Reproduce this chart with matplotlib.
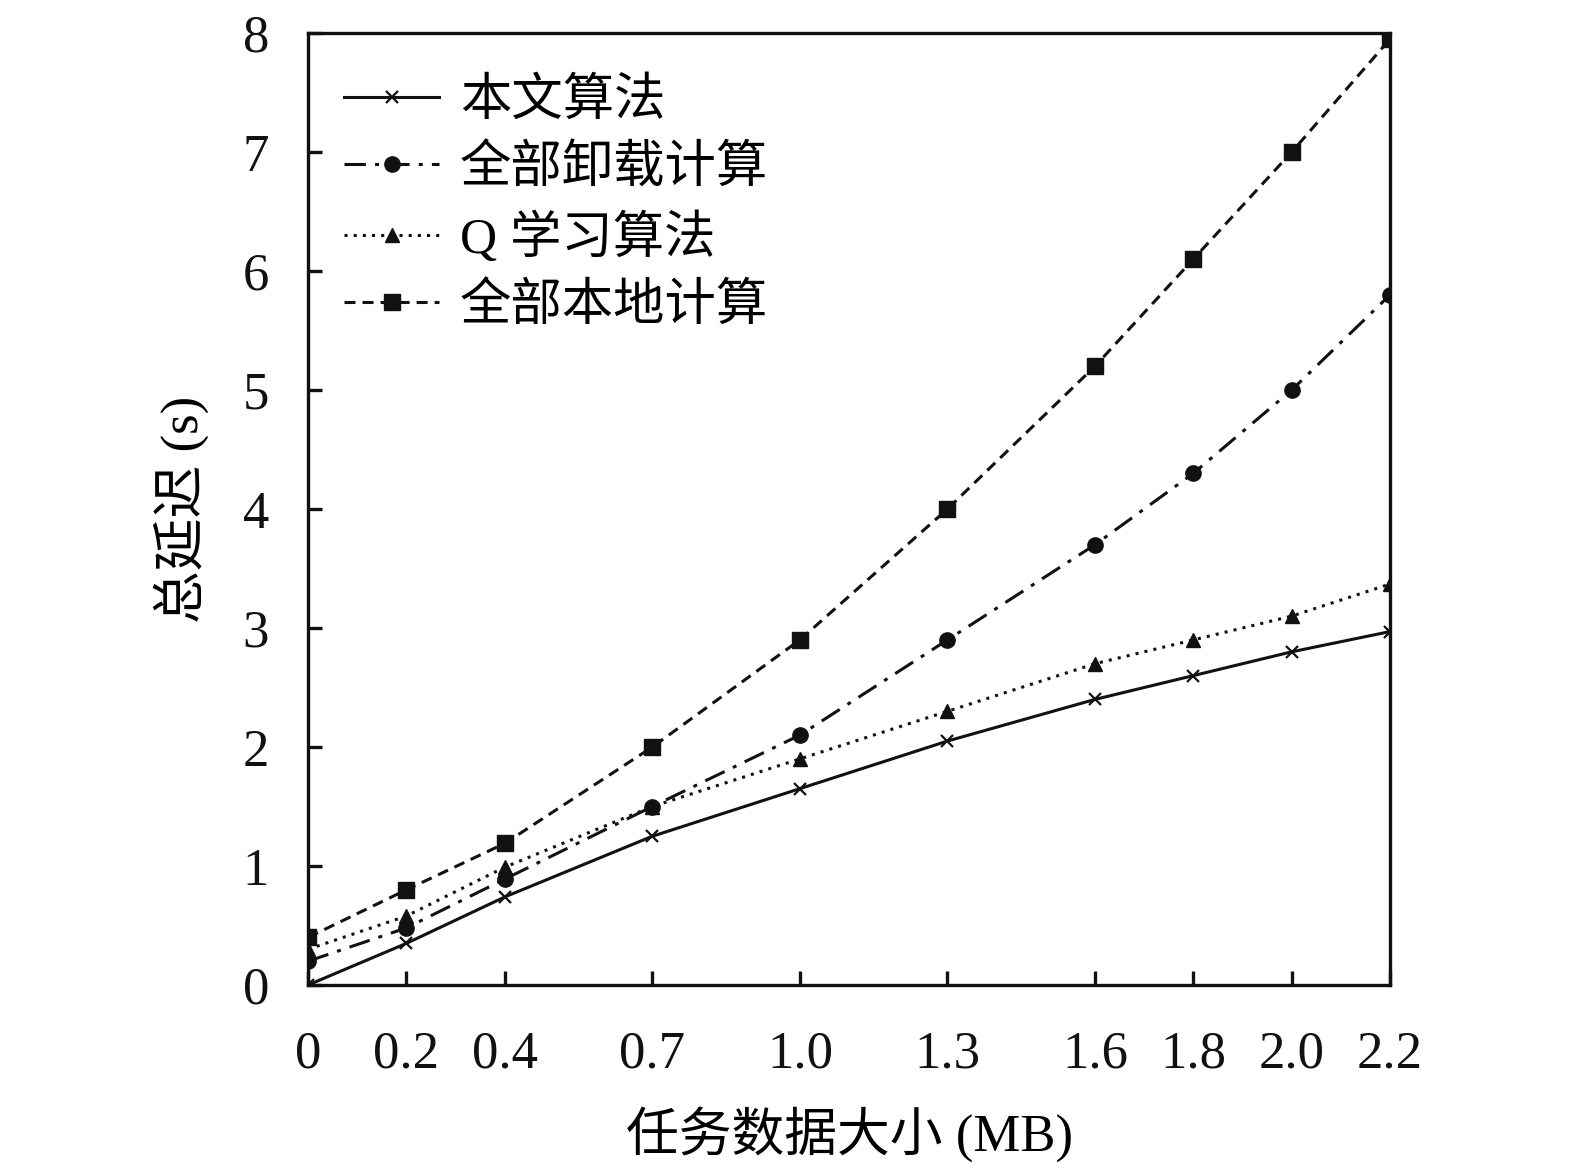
import matplotlib
matplotlib.use("Agg")
import matplotlib.pyplot as plt

plt.rcParams['font.family'] = ['Liberation Serif', 'Noto Sans CJK SC']

# 任务数据大小 (MB)
x = [0, 0.2, 0.4, 0.7, 1.0, 1.3, 1.6, 1.8, 2.0, 2.2]
x_labels = ['0', '0.2', '0.4', '0.7', '1.0', '1.3', '1.6', '1.8', '2.0', '2.2']

# 总延迟 (s)
ours = [0, 0.35, 0.74, 1.25, 1.65, 2.05, 2.4, 2.6, 2.8, 2.97]
offload_all = [0.2, 0.48, 0.89, 1.5, 2.1, 2.9, 3.7, 4.3, 5.0, 5.8]
q_learning = [0.3, 0.58, 0.99, 1.5, 1.9, 2.3, 2.7, 2.9, 3.1, 3.37]
local_all = [0.4, 0.8, 1.19, 2.0, 2.9, 4.0, 5.2, 6.1, 7.0, 7.95]

names = ['本文算法', '全部卸载计算', 'Q 学习算法', '全部本地计算']

fig = plt.figure(figsize=(15.75, 11.75), dpi=100)
ax = fig.add_axes([0.1956, 0.1617, 0.6870, 0.8102])

lw = 2.2
ax.plot(x, ours, color='#111111', linestyle='-', lw=lw, marker='x', ms=9, mew=1.6, label=names[0])
ax.plot(x, offload_all, color='#111111', linestyle=(0, (7, 3, 1.3, 3)), lw=lw, marker='o', ms=11, label=names[1])
ax.plot(x, q_learning, color='#111111', linestyle=(0, (1, 2.0)), lw=lw, marker='^', ms=10, label=names[2])
ax.plot(x, local_all, color='#111111', linestyle=(0, (3.6, 2.3)), lw=lw, marker='s', ms=11, label=names[3])

ax.set_xlim(0, 2.2)
ax.set_ylim(0, 8)
ax.set_xticks(x)
ax.set_xticklabels(x_labels)
ax.set_yticks(range(0, 9))

for s in ax.spines.values():
    s.set_linewidth(2.4)
    s.set_color('#111111')
ax.tick_params(direction='in', length=10, width=2.4, labelsize=38, colors='#111111')
ax.tick_params(axis='x', pad=33)
ax.tick_params(axis='y', pad=28)

ax.set_xlabel('任务数据大小 (MB)', fontsize=38, labelpad=20)
ax.set_ylabel('总延迟 (s)', fontsize=38, labelpad=24)

ax.legend(loc='upper left', frameon=False, fontsize=37, handlelength=1.85,
          handletextpad=0.4, labelspacing=0.37, borderaxespad=0.3,
          bbox_to_anchor=(0.0, 0.99))

fig.savefig('out.png', dpi=100)
